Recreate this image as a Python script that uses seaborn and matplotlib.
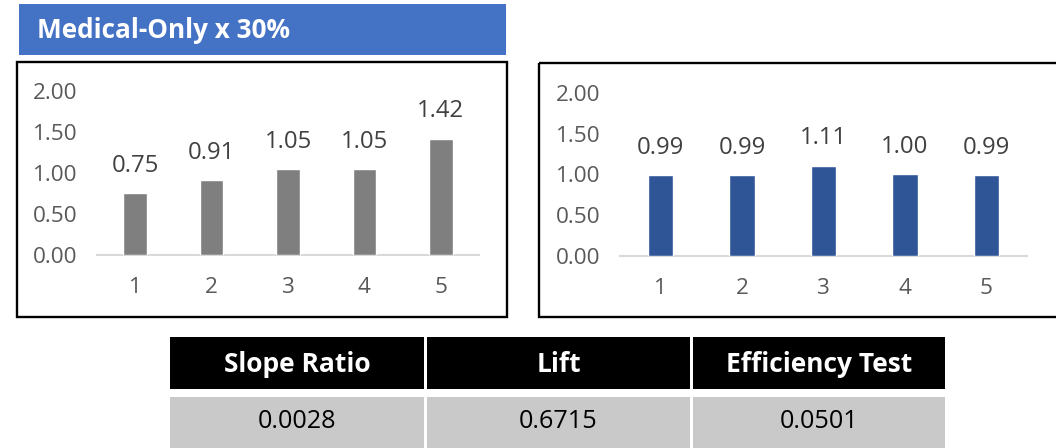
import matplotlib
matplotlib.use("Agg")
import matplotlib.pyplot as plt
import seaborn as sns
import pandas as pd
from matplotlib.patches import Rectangle

# ---- data -------------------------------------------------------------
title_text = "Medical-Only x 30%"
groups = ["1", "2", "3", "4", "5"]
left_values = [0.75, 0.91, 1.05, 1.05, 1.42]
right_values = [0.99, 0.99, 1.11, 1.00, 0.99]
y_ticks = [0.0, 0.5, 1.0, 1.5, 2.0]
table_headers = ["Slope Ratio", "Lift", "Efficiency Test"]
table_values = ["0.0028", "0.6715", "0.0501"]

# ---- style ------------------------------------------------------------
W, H = 1056, 448
sns.set_theme(style="white")
plt.rcParams["font.family"] = ["Open Sans", "DejaVu Sans"]

TICK_COLOR = "#595959"
LABEL_COLOR = "#404040"
AXIS_COLOR = "#D9D9D9"
TICK_FS = 16.2
LABEL_FS = 17.2

fig = plt.figure(figsize=(W / 100, H / 100), dpi=100)
fig.patch.set_facecolor("white")


def px_axes(x0, y0, x1, y1):
    """Axes placed by pixel box measured from the top-left corner."""
    return fig.add_axes([x0 / W, 1 - y1 / H, (x1 - x0) / W, (y1 - y0) / H])


# overlay for banner, frames and summary table
overlay = fig.add_axes([0, 0, 1, 1])
overlay.set_xlim(0, W)
overlay.set_ylim(H, 0)
overlay.axis("off")

# title banner
overlay.add_patch(Rectangle((19, 4), 487, 51, facecolor="#4472C4", edgecolor="none"))
overlay.text(37, 31, title_text, color="white", fontsize=18.8, fontweight="bold",
             va="center", ha="left")

# panel frames
overlay.add_patch(Rectangle((17, 62), 490, 255, facecolor="none",
                            edgecolor="black", linewidth=1.7))
overlay.add_patch(Rectangle((539, 63), 530, 254, facecolor="none",
                            edgecolor="black", linewidth=1.7, clip_on=False))


def bar_panel(box, values, color):
    ax = px_axes(*box)
    ax.set_facecolor("none")
    df = pd.DataFrame({"group": groups, "value": values})
    sns.barplot(data=df, x="group", y="value", color=color, saturation=1,
                width=0.31, ax=ax, errorbar=None)
    ax.set_xlim(-0.5, 4.5)
    ax.set_ylim(0, 2.0)
    ax.set_yticks(y_ticks)
    ax.set_yticklabels([f"{t:.2f}" for t in y_ticks])
    ax.set_xlabel("")
    ax.set_ylabel("")
    for side in ["top", "right", "left"]:
        ax.spines[side].set_visible(False)
    ax.spines["bottom"].set_color(AXIS_COLOR)
    ax.spines["bottom"].set_linewidth(1.5)
    ax.spines["bottom"].set_zorder(0)
    ax.tick_params(axis="y", length=0, pad=14, labelsize=TICK_FS, labelcolor=TICK_COLOR)
    ax.tick_params(axis="x", length=0, pad=16, labelsize=TICK_FS, labelcolor=TICK_COLOR)
    ax.grid(False)
    for cont in ax.containers:
        ax.bar_label(cont, fmt="%.2f", padding=11, fontsize=LABEL_FS, color=LABEL_COLOR)
    return ax


bar_panel((97, 91, 479, 255), left_values, "#7F7F7F")
bar_panel((620, 93, 1027, 256), right_values, "#2F5597")

# summary table
col_edges = [(170, 424), (427, 690), (693, 945)]
for (x0, x1), head, val in zip(col_edges, table_headers, table_values):
    overlay.add_patch(Rectangle((x0, 337), x1 - x0, 52, facecolor="black", edgecolor="none"))
    overlay.add_patch(Rectangle((x0, 397), x1 - x0, 53, facecolor="#C9C9C9", edgecolor="none"))
    cx = (x0 + x1) / 2
    overlay.text(cx, 364, head, color="white", fontsize=19, fontweight="bold",
                 ha="center", va="center")
    overlay.text(cx, 422, val, color="black", fontsize=18.2, ha="center", va="center")

fig.savefig("out.png", dpi=100, facecolor="white")
